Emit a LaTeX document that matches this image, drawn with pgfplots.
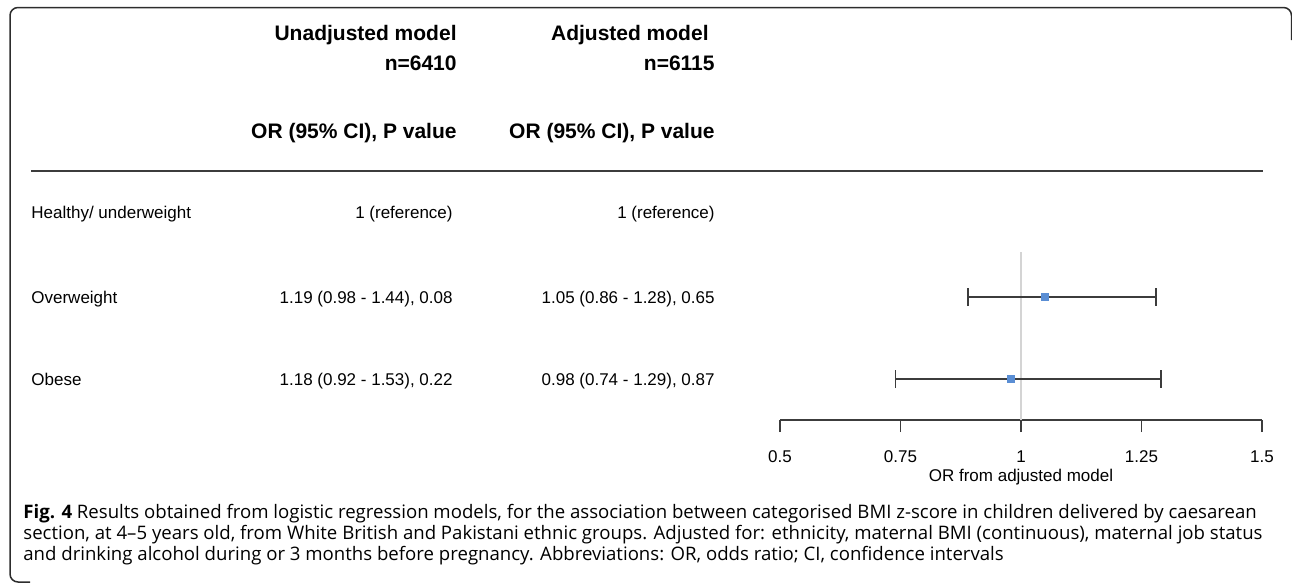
\documentclass[border=0pt]{standalone}
\usepackage{pgfplots}
\pgfplotsset{compat=1.18}
\usepackage{fontspec}
\setmainfont{Liberation Sans}
\newfontfamily\capfont{Open Sans}
\definecolor{mk}{RGB}{90,142,212}
\definecolor{frm}{RGB}{45,45,45}
\definecolor{axc}{RGB}{60,60,60}
\newcommand{\rowf}{\fontsize{8.5pt}{10pt}\selectfont}
\newcommand{\hdf}{\fontsize{10.5pt}{12pt}\selectfont\bfseries}
\newcommand{\capf}{\capfont\fontsize{9.3pt}{11pt}\selectfont}
\begin{document}
\begin{tikzpicture}
\begin{scope}[x=0.5pt,y=-0.5pt]
\useasboundingbox (0,0) rectangle (1292,584);
% frame
\draw[frm, line width=0.75pt, rounded corners=4pt] (1291.5,40) -- (1291.5,7.5) -- (10,7.5) -- (10,582) -- (30,582);
% headers
\node[anchor=base east, font=\hdf, inner sep=0] at (457,40) {Unadjusted model};
\node[anchor=base east, font=\hdf, inner sep=0] at (457,70.5) {n=6410};
\node[anchor=base east, font=\hdf, inner sep=0] at (457,138) {OR (95\% CI), P value};
\node[anchor=base east, font=\hdf, inner sep=0] at (709,40) {Adjusted model};
\node[anchor=base east, font=\hdf, inner sep=0] at (715,70.5) {n=6115};
\node[anchor=base east, font=\hdf, inner sep=0] at (715,138) {OR (95\% CI), P value};
\draw[axc, line width=0.75pt] (31,171) -- (1263,171);
% rows
\node[anchor=base west, font=\rowf, inner sep=0] at (31,218) {Healthy/ underweight};
\node[anchor=base east, font=\rowf, inner sep=0] at (453,218) {1 (reference)};
\node[anchor=base east, font=\rowf, inner sep=0] at (715,218) {1 (reference)};
\node[anchor=base west, font=\rowf, inner sep=0] at (31,303) {Overweight};
\node[anchor=base east, font=\rowf, inner sep=0] at (453,303) {1.19 (0.98 - 1.44), 0.08};
\node[anchor=base east, font=\rowf, inner sep=0] at (715,303) {1.05 (0.86 - 1.28), 0.65};
\node[anchor=base west, font=\rowf, inner sep=0] at (31,385) {Obese};
\node[anchor=base east, font=\rowf, inner sep=0] at (453,385) {1.18 (0.92 - 1.53), 0.22};
\node[anchor=base east, font=\rowf, inner sep=0] at (715,385) {0.98 (0.74 - 1.29), 0.87};
% caption
\node[anchor=base west, font=\capf, inner sep=0] at (23,518) {\textbf{Fig. 4} Results obtained from logistic regression models, for the association between categorised BMI z-score in children delivered by caesarean};
\node[anchor=base west, font=\capf, inner sep=0] at (23,539) {section, at 4–5 years old, from White British and Pakistani ethnic groups. Adjusted for: ethnicity, maternal BMI (continuous), maternal job status};
\node[anchor=base west, font=\capf, inner sep=0] at (23,560) {and drinking alcohol during or 3 months before pregnancy. Abbreviations: OR, odds ratio; CI, confidence intervals};
\end{scope}
\begin{axis}[
  at={(390pt,-210pt)}, anchor=south west,
  scale only axis, width=241pt, height=84pt,
  xmin=0.5, xmax=1.5, ymin=-2.5, ymax=-0.4512,
  axis x line=bottom, axis y line=none,
  axis line style={-, draw=axc, line width=0.75pt},
  xtick={0.5,0.75,1,1.25,1.5}, xticklabels={0.5,0.75,1,1.25,1.5},
  tick align=outside, major tick length=6pt,
  x tick style={draw=axc, line width=0.75pt},
  xticklabel style={font=\rowf, yshift=-6pt},
  xlabel={OR from adjusted model},
  xlabel style={font=\rowf, yshift=4pt},
  clip=false,
]
\addplot[draw=black!17, line width=1pt, mark=none] coordinates {(1,-0.4512) (1,-2.5)};
\addplot[draw=none, mark=none,
  error bars/.cd, x dir=both, x explicit, error mark=|,
  error bar style={draw=axc, line width=0.75pt},
  error mark options={draw=axc, line width=0.75pt, mark size=4.5pt}]
  coordinates {(1.05,-1) += (0.23,0) -= (0.16,0)
               (0.98,-2) += (0.31,0) -= (0.24,0)};
\addplot[only marks, mark=square*, mark size=1.75pt, mark options={draw=mk, fill=mk}]
  coordinates {(1.05,-1) (0.98,-2)};
\end{axis}
\end{tikzpicture}
\end{document}
